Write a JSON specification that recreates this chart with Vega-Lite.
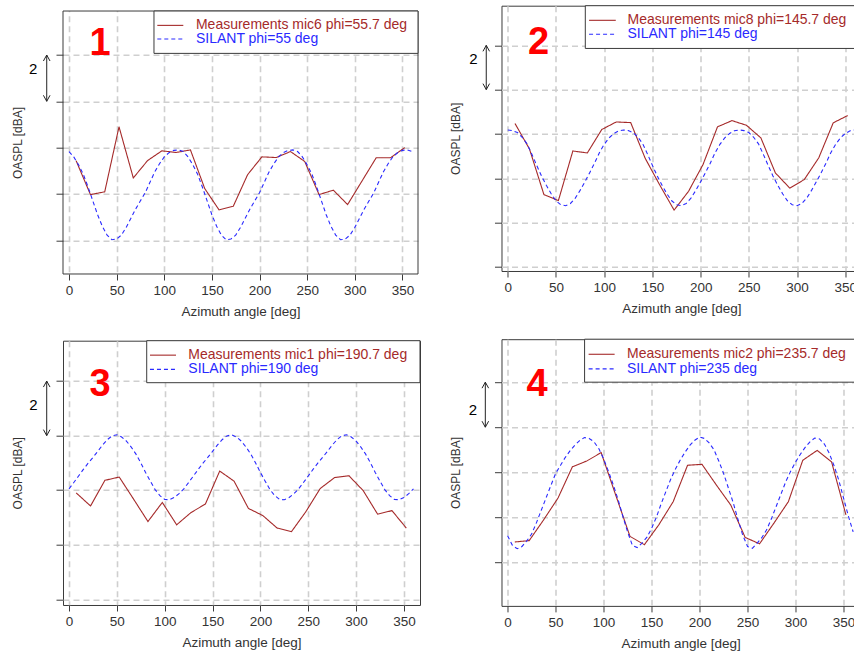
{
"$schema": "https://vega.github.io/schema/vega-lite/v6.json",
"background": "white",
"padding": {"left": 11, "top": 4.7, "right": 0, "bottom": 0},
"config": {
 "view": {"stroke": "#3a3a3a", "strokeWidth": 1},
 "axis": {"grid": true, "gridColor": "#cfcfcf", "gridDash": [6,4], "gridWidth": 1.6, "domain": false, "tickColor": "#3a3a3a", "labelFont": "Liberation Sans", "titleFont": "Liberation Sans", "labelColor": "#333333", "titleColor": "#333333", "titleFontWeight": "normal", "labelFlush": false, "labelOverlap": false}
},
"datasets": {
"p1": [
{"angle":7.5,"dBA":3.43,"series":"Measurements"},{"angle":22.5,"dBA":1.97,"series":"Measurements"},{"angle":37.5,"dBA":2.09,"series":"Measurements"},{"angle":52.5,"dBA":4.9,"series":"Measurements"},{"angle":67.5,"dBA":2.69,"series":"Measurements"},{"angle":82.5,"dBA":3.44,"series":"Measurements"},{"angle":97.5,"dBA":3.86,"series":"Measurements"},{"angle":112.5,"dBA":3.79,"series":"Measurements"},{"angle":127.5,"dBA":3.9,"series":"Measurements"},{"angle":142.5,"dBA":2.23,"series":"Measurements"},{"angle":157.5,"dBA":1.31,"series":"Measurements"},{"angle":172.5,"dBA":1.47,"series":"Measurements"},{"angle":187.5,"dBA":2.83,"series":"Measurements"},{"angle":202.5,"dBA":3.6,"series":"Measurements"},{"angle":217.5,"dBA":3.57,"series":"Measurements"},{"angle":232.5,"dBA":3.83,"series":"Measurements"},{"angle":247.5,"dBA":3.4,"series":"Measurements"},{"angle":262.5,"dBA":1.97,"series":"Measurements"},{"angle":277.5,"dBA":2.16,"series":"Measurements"},{"angle":292.5,"dBA":1.54,"series":"Measurements"},{"angle":307.5,"dBA":2.55,"series":"Measurements"},{"angle":322.5,"dBA":3.56,"series":"Measurements"},{"angle":337.5,"dBA":3.56,"series":"Measurements"},{"angle":352.5,"dBA":4.0,"series":"Measurements"},
{"angle":0,"dBA":3.83,"series":"SILANT"},{"angle":5,"dBA":3.6,"series":"SILANT"},{"angle":10,"dBA":3.26,"series":"SILANT"},{"angle":15,"dBA":2.85,"series":"SILANT"},{"angle":20,"dBA":2.3,"series":"SILANT"},{"angle":25,"dBA":1.7,"series":"SILANT"},{"angle":30,"dBA":1.1,"series":"SILANT"},{"angle":35,"dBA":0.6,"series":"SILANT"},{"angle":40,"dBA":0.22,"series":"SILANT"},{"angle":45,"dBA":0.02,"series":"SILANT"},{"angle":50,"dBA":0.05,"series":"SILANT"},{"angle":55,"dBA":0.22,"series":"SILANT"},{"angle":60,"dBA":0.55,"series":"SILANT"},{"angle":65,"dBA":0.95,"series":"SILANT"},{"angle":70,"dBA":1.35,"series":"SILANT"},{"angle":75,"dBA":1.7,"series":"SILANT"},{"angle":80,"dBA":2.05,"series":"SILANT"},{"angle":85,"dBA":2.5,"series":"SILANT"},{"angle":90,"dBA":2.95,"series":"SILANT"},{"angle":95,"dBA":3.3,"series":"SILANT"},{"angle":100,"dBA":3.6,"series":"SILANT"},{"angle":105,"dBA":3.78,"series":"SILANT"},{"angle":110,"dBA":3.88,"series":"SILANT"},{"angle":115,"dBA":3.9,"series":"SILANT"},
{"angle":120,"dBA":3.83,"series":"SILANT"},{"angle":125,"dBA":3.6,"series":"SILANT"},{"angle":130,"dBA":3.26,"series":"SILANT"},{"angle":135,"dBA":2.85,"series":"SILANT"},{"angle":140,"dBA":2.3,"series":"SILANT"},{"angle":145,"dBA":1.7,"series":"SILANT"},{"angle":150,"dBA":1.1,"series":"SILANT"},{"angle":155,"dBA":0.6,"series":"SILANT"},{"angle":160,"dBA":0.22,"series":"SILANT"},{"angle":165,"dBA":0.02,"series":"SILANT"},{"angle":170,"dBA":0.05,"series":"SILANT"},{"angle":175,"dBA":0.22,"series":"SILANT"},{"angle":180,"dBA":0.55,"series":"SILANT"},{"angle":185,"dBA":0.95,"series":"SILANT"},{"angle":190,"dBA":1.35,"series":"SILANT"},{"angle":195,"dBA":1.7,"series":"SILANT"},{"angle":200,"dBA":2.05,"series":"SILANT"},{"angle":205,"dBA":2.5,"series":"SILANT"},{"angle":210,"dBA":2.95,"series":"SILANT"},{"angle":215,"dBA":3.3,"series":"SILANT"},{"angle":220,"dBA":3.6,"series":"SILANT"},{"angle":225,"dBA":3.78,"series":"SILANT"},{"angle":230,"dBA":3.88,"series":"SILANT"},{"angle":235,"dBA":3.9,"series":"SILANT"},
{"angle":240,"dBA":3.83,"series":"SILANT"},{"angle":245,"dBA":3.6,"series":"SILANT"},{"angle":250,"dBA":3.26,"series":"SILANT"},{"angle":255,"dBA":2.85,"series":"SILANT"},{"angle":260,"dBA":2.3,"series":"SILANT"},{"angle":265,"dBA":1.7,"series":"SILANT"},{"angle":270,"dBA":1.1,"series":"SILANT"},{"angle":275,"dBA":0.6,"series":"SILANT"},{"angle":280,"dBA":0.22,"series":"SILANT"},{"angle":285,"dBA":0.02,"series":"SILANT"},{"angle":290,"dBA":0.05,"series":"SILANT"},{"angle":295,"dBA":0.22,"series":"SILANT"},{"angle":300,"dBA":0.55,"series":"SILANT"},{"angle":305,"dBA":0.95,"series":"SILANT"},{"angle":310,"dBA":1.35,"series":"SILANT"},{"angle":315,"dBA":1.7,"series":"SILANT"},{"angle":320,"dBA":2.05,"series":"SILANT"},{"angle":325,"dBA":2.5,"series":"SILANT"},{"angle":330,"dBA":2.95,"series":"SILANT"},{"angle":335,"dBA":3.3,"series":"SILANT"},{"angle":340,"dBA":3.6,"series":"SILANT"},{"angle":345,"dBA":3.78,"series":"SILANT"},{"angle":350,"dBA":3.88,"series":"SILANT"},{"angle":355,"dBA":3.9,"series":"SILANT"},{"angle":360,"dBA":3.83,"series":"SILANT"}
],
"p2": [
{"angle":7.5,"dBA":6.47,"series":"Measurements"},{"angle":22.5,"dBA":5.32,"series":"Measurements"},{"angle":37.5,"dBA":3.26,"series":"Measurements"},{"angle":52.5,"dBA":2.99,"series":"Measurements"},{"angle":67.5,"dBA":5.23,"series":"Measurements"},{"angle":82.5,"dBA":5.14,"series":"Measurements"},{"angle":97.5,"dBA":6.2,"series":"Measurements"},{"angle":112.5,"dBA":6.54,"series":"Measurements"},{"angle":127.5,"dBA":6.51,"series":"Measurements"},{"angle":142.5,"dBA":4.9,"series":"Measurements"},{"angle":157.5,"dBA":3.7,"series":"Measurements"},{"angle":172.5,"dBA":2.56,"series":"Measurements"},{"angle":187.5,"dBA":3.41,"series":"Measurements"},{"angle":202.5,"dBA":4.62,"series":"Measurements"},{"angle":217.5,"dBA":6.32,"series":"Measurements"},{"angle":232.5,"dBA":6.6,"series":"Measurements"},{"angle":247.5,"dBA":6.39,"series":"Measurements"},{"angle":262.5,"dBA":5.82,"series":"Measurements"},{"angle":277.5,"dBA":4.24,"series":"Measurements"},{"angle":292.5,"dBA":3.55,"series":"Measurements"},{"angle":307.5,"dBA":3.94,"series":"Measurements"},{"angle":322.5,"dBA":4.92,"series":"Measurements"},{"angle":337.5,"dBA":6.5,"series":"Measurements"},{"angle":352.5,"dBA":6.83,"series":"Measurements"},
{"angle":0,"dBA":6.18,"series":"SILANT"},{"angle":5,"dBA":6.15,"series":"SILANT"},{"angle":10,"dBA":6.06,"series":"SILANT"},{"angle":15,"dBA":5.85,"series":"SILANT"},{"angle":20,"dBA":5.55,"series":"SILANT"},{"angle":25,"dBA":5.08,"series":"SILANT"},{"angle":30,"dBA":4.58,"series":"SILANT"},{"angle":35,"dBA":4.1,"series":"SILANT"},{"angle":40,"dBA":3.68,"series":"SILANT"},{"angle":45,"dBA":3.3,"series":"SILANT"},{"angle":50,"dBA":2.98,"series":"SILANT"},{"angle":55,"dBA":2.8,"series":"SILANT"},{"angle":60,"dBA":2.76,"series":"SILANT"},{"angle":65,"dBA":2.86,"series":"SILANT"},{"angle":70,"dBA":3.1,"series":"SILANT"},{"angle":75,"dBA":3.45,"series":"SILANT"},{"angle":80,"dBA":3.84,"series":"SILANT"},{"angle":85,"dBA":4.25,"series":"SILANT"},{"angle":90,"dBA":4.68,"series":"SILANT"},{"angle":95,"dBA":5.15,"series":"SILANT"},{"angle":100,"dBA":5.53,"series":"SILANT"},{"angle":105,"dBA":5.82,"series":"SILANT"},{"angle":110,"dBA":6.02,"series":"SILANT"},{"angle":115,"dBA":6.14,"series":"SILANT"},
{"angle":120,"dBA":6.18,"series":"SILANT"},{"angle":125,"dBA":6.15,"series":"SILANT"},{"angle":130,"dBA":6.06,"series":"SILANT"},{"angle":135,"dBA":5.85,"series":"SILANT"},{"angle":140,"dBA":5.55,"series":"SILANT"},{"angle":145,"dBA":5.08,"series":"SILANT"},{"angle":150,"dBA":4.58,"series":"SILANT"},{"angle":155,"dBA":4.1,"series":"SILANT"},{"angle":160,"dBA":3.68,"series":"SILANT"},{"angle":165,"dBA":3.3,"series":"SILANT"},{"angle":170,"dBA":2.98,"series":"SILANT"},{"angle":175,"dBA":2.8,"series":"SILANT"},{"angle":180,"dBA":2.76,"series":"SILANT"},{"angle":185,"dBA":2.86,"series":"SILANT"},{"angle":190,"dBA":3.1,"series":"SILANT"},{"angle":195,"dBA":3.45,"series":"SILANT"},{"angle":200,"dBA":3.84,"series":"SILANT"},{"angle":205,"dBA":4.25,"series":"SILANT"},{"angle":210,"dBA":4.68,"series":"SILANT"},{"angle":215,"dBA":5.15,"series":"SILANT"},{"angle":220,"dBA":5.53,"series":"SILANT"},{"angle":225,"dBA":5.82,"series":"SILANT"},{"angle":230,"dBA":6.02,"series":"SILANT"},{"angle":235,"dBA":6.14,"series":"SILANT"},
{"angle":240,"dBA":6.18,"series":"SILANT"},{"angle":245,"dBA":6.15,"series":"SILANT"},{"angle":250,"dBA":6.06,"series":"SILANT"},{"angle":255,"dBA":5.85,"series":"SILANT"},{"angle":260,"dBA":5.55,"series":"SILANT"},{"angle":265,"dBA":5.08,"series":"SILANT"},{"angle":270,"dBA":4.58,"series":"SILANT"},{"angle":275,"dBA":4.1,"series":"SILANT"},{"angle":280,"dBA":3.68,"series":"SILANT"},{"angle":285,"dBA":3.3,"series":"SILANT"},{"angle":290,"dBA":2.98,"series":"SILANT"},{"angle":295,"dBA":2.8,"series":"SILANT"},{"angle":300,"dBA":2.76,"series":"SILANT"},{"angle":305,"dBA":2.86,"series":"SILANT"},{"angle":310,"dBA":3.1,"series":"SILANT"},{"angle":315,"dBA":3.45,"series":"SILANT"},{"angle":320,"dBA":3.84,"series":"SILANT"},{"angle":325,"dBA":4.25,"series":"SILANT"},{"angle":330,"dBA":4.68,"series":"SILANT"},{"angle":335,"dBA":5.15,"series":"SILANT"},{"angle":340,"dBA":5.53,"series":"SILANT"},{"angle":345,"dBA":5.82,"series":"SILANT"},{"angle":350,"dBA":6.02,"series":"SILANT"},{"angle":355,"dBA":6.14,"series":"SILANT"},{"angle":360,"dBA":6.18,"series":"SILANT"}
],
"p3": [
{"angle":7.5,"dBA":3.9,"series":"Measurements"},{"angle":22.5,"dBA":3.42,"series":"Measurements"},{"angle":37.5,"dBA":4.36,"series":"Measurements"},{"angle":52.5,"dBA":4.48,"series":"Measurements"},{"angle":67.5,"dBA":3.67,"series":"Measurements"},{"angle":82.5,"dBA":2.85,"series":"Measurements"},{"angle":97.5,"dBA":3.55,"series":"Measurements"},{"angle":112.5,"dBA":2.73,"series":"Measurements"},{"angle":127.5,"dBA":3.18,"series":"Measurements"},{"angle":142.5,"dBA":3.49,"series":"Measurements"},{"angle":157.5,"dBA":4.7,"series":"Measurements"},{"angle":172.5,"dBA":4.33,"series":"Measurements"},{"angle":187.5,"dBA":3.33,"series":"Measurements"},{"angle":202.5,"dBA":3.07,"series":"Measurements"},{"angle":217.5,"dBA":2.61,"series":"Measurements"},{"angle":232.5,"dBA":2.48,"series":"Measurements"},{"angle":247.5,"dBA":3.21,"series":"Measurements"},{"angle":262.5,"dBA":4.06,"series":"Measurements"},{"angle":277.5,"dBA":4.46,"series":"Measurements"},{"angle":292.5,"dBA":4.53,"series":"Measurements"},{"angle":307.5,"dBA":3.98,"series":"Measurements"},{"angle":322.5,"dBA":3.12,"series":"Measurements"},{"angle":337.5,"dBA":3.25,"series":"Measurements"},{"angle":352.5,"dBA":2.61,"series":"Measurements"},
{"angle":0,"dBA":4.05,"series":"SILANT"},{"angle":5,"dBA":4.28,"series":"SILANT"},{"angle":10,"dBA":4.52,"series":"SILANT"},{"angle":15,"dBA":4.76,"series":"SILANT"},{"angle":20,"dBA":4.99,"series":"SILANT"},{"angle":25,"dBA":5.2,"series":"SILANT"},{"angle":30,"dBA":5.42,"series":"SILANT"},{"angle":35,"dBA":5.65,"series":"SILANT"},{"angle":40,"dBA":5.85,"series":"SILANT"},{"angle":45,"dBA":5.99,"series":"SILANT"},{"angle":50,"dBA":6.03,"series":"SILANT"},{"angle":55,"dBA":5.95,"series":"SILANT"},{"angle":60,"dBA":5.8,"series":"SILANT"},{"angle":65,"dBA":5.58,"series":"SILANT"},{"angle":70,"dBA":5.32,"series":"SILANT"},{"angle":75,"dBA":5.0,"series":"SILANT"},{"angle":80,"dBA":4.65,"series":"SILANT"},{"angle":85,"dBA":4.33,"series":"SILANT"},{"angle":90,"dBA":4.02,"series":"SILANT"},{"angle":95,"dBA":3.8,"series":"SILANT"},{"angle":100,"dBA":3.66,"series":"SILANT"},{"angle":105,"dBA":3.65,"series":"SILANT"},{"angle":110,"dBA":3.73,"series":"SILANT"},{"angle":115,"dBA":3.87,"series":"SILANT"},
{"angle":120,"dBA":4.05,"series":"SILANT"},{"angle":125,"dBA":4.28,"series":"SILANT"},{"angle":130,"dBA":4.52,"series":"SILANT"},{"angle":135,"dBA":4.76,"series":"SILANT"},{"angle":140,"dBA":4.99,"series":"SILANT"},{"angle":145,"dBA":5.2,"series":"SILANT"},{"angle":150,"dBA":5.42,"series":"SILANT"},{"angle":155,"dBA":5.65,"series":"SILANT"},{"angle":160,"dBA":5.85,"series":"SILANT"},{"angle":165,"dBA":5.99,"series":"SILANT"},{"angle":170,"dBA":6.03,"series":"SILANT"},{"angle":175,"dBA":5.95,"series":"SILANT"},{"angle":180,"dBA":5.8,"series":"SILANT"},{"angle":185,"dBA":5.58,"series":"SILANT"},{"angle":190,"dBA":5.32,"series":"SILANT"},{"angle":195,"dBA":5.0,"series":"SILANT"},{"angle":200,"dBA":4.65,"series":"SILANT"},{"angle":205,"dBA":4.33,"series":"SILANT"},{"angle":210,"dBA":4.02,"series":"SILANT"},{"angle":215,"dBA":3.8,"series":"SILANT"},{"angle":220,"dBA":3.66,"series":"SILANT"},{"angle":225,"dBA":3.65,"series":"SILANT"},{"angle":230,"dBA":3.73,"series":"SILANT"},{"angle":235,"dBA":3.87,"series":"SILANT"},
{"angle":240,"dBA":4.05,"series":"SILANT"},{"angle":245,"dBA":4.28,"series":"SILANT"},{"angle":250,"dBA":4.52,"series":"SILANT"},{"angle":255,"dBA":4.76,"series":"SILANT"},{"angle":260,"dBA":4.99,"series":"SILANT"},{"angle":265,"dBA":5.2,"series":"SILANT"},{"angle":270,"dBA":5.42,"series":"SILANT"},{"angle":275,"dBA":5.65,"series":"SILANT"},{"angle":280,"dBA":5.85,"series":"SILANT"},{"angle":285,"dBA":5.99,"series":"SILANT"},{"angle":290,"dBA":6.03,"series":"SILANT"},{"angle":295,"dBA":5.95,"series":"SILANT"},{"angle":300,"dBA":5.8,"series":"SILANT"},{"angle":305,"dBA":5.58,"series":"SILANT"},{"angle":310,"dBA":5.32,"series":"SILANT"},{"angle":315,"dBA":5.0,"series":"SILANT"},{"angle":320,"dBA":4.65,"series":"SILANT"},{"angle":325,"dBA":4.33,"series":"SILANT"},{"angle":330,"dBA":4.02,"series":"SILANT"},{"angle":335,"dBA":3.8,"series":"SILANT"},{"angle":340,"dBA":3.66,"series":"SILANT"},{"angle":345,"dBA":3.65,"series":"SILANT"},{"angle":350,"dBA":3.73,"series":"SILANT"},{"angle":355,"dBA":3.87,"series":"SILANT"},{"angle":360,"dBA":4.05,"series":"SILANT"}
],
"p4": [
{"angle":7.5,"dBA":0.9,"series":"Measurements"},{"angle":22.5,"dBA":0.96,"series":"Measurements"},{"angle":37.5,"dBA":1.88,"series":"Measurements"},{"angle":52.5,"dBA":2.85,"series":"Measurements"},{"angle":67.5,"dBA":4.24,"series":"Measurements"},{"angle":82.5,"dBA":4.5,"series":"Measurements"},{"angle":97.5,"dBA":4.87,"series":"Measurements"},{"angle":112.5,"dBA":3.0,"series":"Measurements"},{"angle":127.5,"dBA":1.15,"series":"Measurements"},{"angle":142.5,"dBA":0.78,"series":"Measurements"},{"angle":157.5,"dBA":1.66,"series":"Measurements"},{"angle":172.5,"dBA":2.69,"series":"Measurements"},{"angle":187.5,"dBA":4.31,"series":"Measurements"},{"angle":202.5,"dBA":4.35,"series":"Measurements"},{"angle":217.5,"dBA":3.43,"series":"Measurements"},{"angle":232.5,"dBA":2.54,"series":"Measurements"},{"angle":247.5,"dBA":1.1,"series":"Measurements"},{"angle":262.5,"dBA":0.82,"series":"Measurements"},{"angle":277.5,"dBA":1.74,"series":"Measurements"},{"angle":292.5,"dBA":2.69,"series":"Measurements"},{"angle":307.5,"dBA":4.53,"series":"Measurements"},{"angle":322.5,"dBA":4.97,"series":"Measurements"},{"angle":337.5,"dBA":4.46,"series":"Measurements"},{"angle":352.5,"dBA":2.1,"series":"Measurements"},
{"angle":0,"dBA":1.18,"series":"SILANT"},{"angle":5,"dBA":0.75,"series":"SILANT"},{"angle":10,"dBA":0.6,"series":"SILANT"},{"angle":15,"dBA":0.7,"series":"SILANT"},{"angle":20,"dBA":0.95,"series":"SILANT"},{"angle":25,"dBA":1.25,"series":"SILANT"},{"angle":30,"dBA":1.75,"series":"SILANT"},{"angle":35,"dBA":2.3,"series":"SILANT"},{"angle":40,"dBA":2.85,"series":"SILANT"},{"angle":45,"dBA":3.4,"series":"SILANT"},{"angle":50,"dBA":3.94,"series":"SILANT"},{"angle":55,"dBA":4.3,"series":"SILANT"},{"angle":60,"dBA":4.65,"series":"SILANT"},{"angle":65,"dBA":4.95,"series":"SILANT"},{"angle":70,"dBA":5.2,"series":"SILANT"},{"angle":75,"dBA":5.4,"series":"SILANT"},{"angle":80,"dBA":5.54,"series":"SILANT"},{"angle":85,"dBA":5.5,"series":"SILANT"},{"angle":90,"dBA":5.35,"series":"SILANT"},{"angle":95,"dBA":5.05,"series":"SILANT"},{"angle":100,"dBA":4.6,"series":"SILANT"},{"angle":105,"dBA":4.05,"series":"SILANT"},{"angle":110,"dBA":3.45,"series":"SILANT"},{"angle":115,"dBA":2.8,"series":"SILANT"},{"angle":120,"dBA":2.05,"series":"SILANT"},{"angle":125,"dBA":1.35,"series":"SILANT"},{"angle":130,"dBA":0.75,"series":"SILANT"},{"angle":135,"dBA":0.65,"series":"SILANT"},{"angle":140,"dBA":0.85,"series":"SILANT"},{"angle":145,"dBA":1.1,"series":"SILANT"},{"angle":150,"dBA":1.5,"series":"SILANT"},{"angle":155,"dBA":2.0,"series":"SILANT"},{"angle":160,"dBA":2.6,"series":"SILANT"},{"angle":165,"dBA":3.15,"series":"SILANT"},{"angle":170,"dBA":3.7,"series":"SILANT"},{"angle":175,"dBA":4.15,"series":"SILANT"},{"angle":180,"dBA":4.55,"series":"SILANT"},{"angle":185,"dBA":4.9,"series":"SILANT"},{"angle":190,"dBA":5.2,"series":"SILANT"},{"angle":195,"dBA":5.42,"series":"SILANT"},{"angle":200,"dBA":5.56,"series":"SILANT"},{"angle":205,"dBA":5.5,"series":"SILANT"},{"angle":210,"dBA":5.3,"series":"SILANT"},{"angle":215,"dBA":5.0,"series":"SILANT"},{"angle":220,"dBA":4.5,"series":"SILANT"},{"angle":225,"dBA":3.95,"series":"SILANT"},{"angle":230,"dBA":3.3,"series":"SILANT"},{"angle":235,"dBA":2.65,"series":"SILANT"},{"angle":240,"dBA":1.9,"series":"SILANT"},{"angle":245,"dBA":1.2,"series":"SILANT"},{"angle":250,"dBA":0.7,"series":"SILANT"},{"angle":255,"dBA":0.62,"series":"SILANT"},{"angle":260,"dBA":0.85,"series":"SILANT"},{"angle":265,"dBA":1.1,"series":"SILANT"},{"angle":270,"dBA":1.45,"series":"SILANT"},{"angle":275,"dBA":1.95,"series":"SILANT"},{"angle":280,"dBA":2.5,"series":"SILANT"},{"angle":285,"dBA":3.05,"series":"SILANT"},{"angle":290,"dBA":3.6,"series":"SILANT"},{"angle":295,"dBA":4.05,"series":"SILANT"},{"angle":300,"dBA":4.45,"series":"SILANT"},{"angle":305,"dBA":4.8,"series":"SILANT"},{"angle":310,"dBA":5.1,"series":"SILANT"},{"angle":315,"dBA":5.35,"series":"SILANT"},{"angle":320,"dBA":5.52,"series":"SILANT"},{"angle":325,"dBA":5.48,"series":"SILANT"},{"angle":330,"dBA":5.25,"series":"SILANT"},{"angle":335,"dBA":4.85,"series":"SILANT"},{"angle":340,"dBA":4.3,"series":"SILANT"},{"angle":345,"dBA":3.65,"series":"SILANT"},{"angle":350,"dBA":2.85,"series":"SILANT"},{"angle":355,"dBA":2.05,"series":"SILANT"},{"angle":360,"dBA":1.35,"series":"SILANT"}
]
},
"spacing": 28.5,
"hconcat": [
{"spacing": 21, "vconcat": [
{"width": 355, "height": 268.3,
 "view": {"stroke": null},
 "layer": [
  {"data": {"name": "p1"}, "mark": {"type": "line", "clip": true, "strokeWidth": 1.1},
   "encoding": {
    "x": {"field": "angle", "type": "quantitative", "scale": {"domain": [-6.3, 366.4], "nice": false, "zero": false}, "axis": {"values": [0,50,100,150,200,250,300,350], "title": "Azimuth angle [deg]", "labelFontSize": 13.5, "titleFontSize": 13.5, "tickSize": 6, "labelPadding": 4, "titlePadding": 7}},
    "y": {"field": "dBA", "type": "quantitative", "scale": {"domain": [-1.46, 10.13], "nice": false, "zero": false}, "axis": {"values": [0,2,4,6,8], "labels": false, "title": "OASPL [dBA]", "titleFontSize": 12, "tickSize": 7, "titlePadding": 31, "titleY": 136.8}},
    "color": {"field": "series", "type": "nominal", "scale": {"domain": ["Measurements","SILANT"], "range": ["#a52a2a","#2a2aff"]}, "legend": null},
    "strokeDash": {"field": "series", "type": "nominal", "scale": {"domain": ["Measurements","SILANT"], "range": [[1,0],[4,3]]}, "legend": null}
   }},
  {"data": {"values": [{}]}, "mark": {"type": "rect", "fill": "white", "strokeWidth": 0}, "encoding": {"x": {"datum": -6.3}, "x2": {"datum": 366.4}, "y": {"datum": 9.9}, "y2": {"datum": 10.13}}},
  {"data": {"values": [{}]}, "mark": {"type": "rect", "filled": false, "color": "#3a3a3a", "strokeWidth": 1}, "encoding": {"x": {"datum": -6.3}, "x2": {"datum": 366.4}, "y": {"datum": 9.9}, "y2": {"datum": -1.46}}},
  {"data": {"values": [{}]}, "mark": {"type": "rect", "fill": "white", "stroke": "#3a3a3a", "strokeWidth": 1}, "encoding": {"x": {"datum": 89.2}, "x2": {"datum": 366.4}, "y": {"datum": 9.9}, "y2": {"datum": 8.07}}},
  {"data": {"values": [{}]}, "mark": {"type": "rule", "color": "#a52a2a", "strokeWidth": 1.1}, "encoding": {"x": {"datum": 92.7}, "x2": {"datum": 120}, "y": {"datum": 9.28}}},
  {"data": {"values": [{}]}, "mark": {"type": "rule", "color": "#2a2aff", "strokeWidth": 1.1, "strokeDash": [4,3]}, "encoding": {"x": {"datum": 92.7}, "x2": {"datum": 120}, "y": {"datum": 8.69}}},
  {"data": {"values": [{}]}, "mark": {"type": "text", "text": "Measurements mic6 phi=55.7 deg", "align": "left", "baseline": "middle", "font": "Liberation Sans", "fontSize": 14, "color": "#a52a2a"}, "encoding": {"x": {"datum": 133.3}, "y": {"datum": 9.28}}},
  {"data": {"values": [{}]}, "mark": {"type": "text", "text": "SILANT phi=55 deg", "align": "left", "baseline": "middle", "font": "Liberation Sans", "fontSize": 14, "color": "#2a2aff"}, "encoding": {"x": {"datum": 133.3}, "y": {"datum": 8.69}}},
  {"data": {"values": [{}]}, "mark": {"type": "text", "text": "1", "align": "center", "baseline": "middle", "font": "Liberation Sans", "fontSize": 38, "fontWeight": "bold", "color": "#ff0000"}, "encoding": {"x": {"datum": 32.5}, "y": {"datum": 8.46}}},
  {"data": {"values": [{}]}, "mark": {"type": "text", "text": "2", "align": "center", "baseline": "middle", "font": "Liberation Sans", "fontSize": 15, "color": "#000000"}, "encoding": {"x": {"datum": -37.5}, "y": {"datum": 7.38}}},
  {"data": {"values": [{}]}, "mark": {"type": "rule", "color": "#222222", "strokeWidth": 1}, "encoding": {"x": {"datum": -23.4}, "y": {"datum": 8}, "y2": {"datum": 6}}},
  {"data": {"values": [{}]}, "mark": {"type": "point", "shape": "M-0.55,1L0,0L0.55,1", "size": 144, "filled": false, "color": "#222222", "strokeWidth": 1, "opacity": 1}, "encoding": {"x": {"datum": -23.4}, "y": {"datum": 8}}},
  {"data": {"values": [{}]}, "mark": {"type": "point", "shape": "M-0.55,-1L0,0L0.55,-1", "size": 144, "filled": false, "color": "#222222", "strokeWidth": 1, "opacity": 1}, "encoding": {"x": {"datum": -23.4}, "y": {"datum": 6}}}
 ]},
{"width": 357, "height": 264.3,
 "layer": [
  {"data": {"name": "p3"}, "mark": {"type": "line", "clip": true, "strokeWidth": 1.1},
   "encoding": {
    "x": {"field": "angle", "type": "quantitative", "scale": {"domain": [-6.27, 366.8], "nice": false, "zero": false}, "axis": {"values": [0,50,100,150,200,250,300,350], "title": "Azimuth angle [deg]", "labelFontSize": 13.5, "titleFontSize": 13.5, "tickSize": 6, "labelPadding": 4, "titlePadding": 7}},
    "y": {"field": "dBA", "type": "quantitative", "scale": {"domain": [-0.21, 9.48], "nice": false, "zero": false}, "axis": {"values": [0,2,4,6,8], "labels": false, "title": "OASPL [dBA]", "titleFontSize": 12, "tickSize": 7, "titlePadding": 31}},
    "color": {"field": "series", "type": "nominal", "scale": {"domain": ["Measurements","SILANT"], "range": ["#a52a2a","#2a2aff"]}, "legend": null},
    "strokeDash": {"field": "series", "type": "nominal", "scale": {"domain": ["Measurements","SILANT"], "range": [[1,0],[4,3]]}, "legend": null}
   }},
  {"data": {"values": [{}]}, "mark": {"type": "rect", "fill": "white", "stroke": "#3a3a3a", "strokeWidth": 1}, "encoding": {"x": {"datum": 81.2}, "x2": {"datum": 366.8}, "y": {"datum": 9.48}, "y2": {"datum": 7.94}}},
  {"data": {"values": [{}]}, "mark": {"type": "rule", "color": "#a52a2a", "strokeWidth": 1.1}, "encoding": {"x": {"datum": 84.6}, "x2": {"datum": 111.8}, "y": {"datum": 8.95}}},
  {"data": {"values": [{}]}, "mark": {"type": "rule", "color": "#2a2aff", "strokeWidth": 1.1, "strokeDash": [4,3]}, "encoding": {"x": {"datum": 84.6}, "x2": {"datum": 111.8}, "y": {"datum": 8.43}}},
  {"data": {"values": [{}]}, "mark": {"type": "text", "text": "Measurements mic1 phi=190.7 deg", "align": "left", "baseline": "middle", "font": "Liberation Sans", "fontSize": 14, "color": "#a52a2a"}, "encoding": {"x": {"datum": 124.7}, "y": {"datum": 8.95}}},
  {"data": {"values": [{}]}, "mark": {"type": "text", "text": "SILANT phi=190 deg", "align": "left", "baseline": "middle", "font": "Liberation Sans", "fontSize": 14, "color": "#2a2aff"}, "encoding": {"x": {"datum": 124.7}, "y": {"datum": 8.43}}},
  {"data": {"values": [{}]}, "mark": {"type": "text", "text": "3", "align": "center", "baseline": "middle", "font": "Liberation Sans", "fontSize": 38, "fontWeight": "bold", "color": "#ff0000"}, "encoding": {"x": {"datum": 32.4}, "y": {"datum": 7.85}}},
  {"data": {"values": [{}]}, "mark": {"type": "text", "text": "2", "align": "center", "baseline": "middle", "font": "Liberation Sans", "fontSize": 15, "color": "#000000"}, "encoding": {"x": {"datum": -37.3}, "y": {"datum": 7.12}}},
  {"data": {"values": [{}]}, "mark": {"type": "rule", "color": "#222222", "strokeWidth": 1}, "encoding": {"x": {"datum": -23.3}, "y": {"datum": 8}, "y2": {"datum": 6}}},
  {"data": {"values": [{}]}, "mark": {"type": "point", "shape": "M-0.55,1L0,0L0.55,1", "size": 144, "filled": false, "color": "#222222", "strokeWidth": 1, "opacity": 1}, "encoding": {"x": {"datum": -23.3}, "y": {"datum": 8}}},
  {"data": {"values": [{}]}, "mark": {"type": "point", "shape": "M-0.55,-1L0,0L0.55,-1", "size": 144, "filled": false, "color": "#222222", "strokeWidth": 1, "opacity": 1}, "encoding": {"x": {"datum": -23.3}, "y": {"datum": 6}}}
 ]}
]},
{"spacing": 22.5, "vconcat": [
{"width": 359.6, "height": 265.3,
 "layer": [
  {"data": {"name": "p2"}, "mark": {"type": "line", "clip": true, "strokeWidth": 1.1},
   "encoding": {
    "x": {"field": "angle", "type": "quantitative", "scale": {"domain": [-6.5, 366.4], "nice": false, "zero": false}, "axis": {"values": [0,50,100,150,200,250,300,350], "title": "Azimuth angle [deg]", "labelFontSize": 13.5, "titleFontSize": 13.5, "tickSize": 6, "labelPadding": 4, "titlePadding": 7}},
    "y": {"field": "dBA", "type": "quantitative", "scale": {"domain": [-0.19, 11.79], "nice": false, "zero": false}, "axis": {"values": [0,2,4,6,8,10], "labels": false, "title": "OASPL [dBA]", "titleFontSize": 12, "tickSize": 7, "titlePadding": 31}},
    "color": {"field": "series", "type": "nominal", "scale": {"domain": ["Measurements","SILANT"], "range": ["#a52a2a","#2a2aff"]}, "legend": null},
    "strokeDash": {"field": "series", "type": "nominal", "scale": {"domain": ["Measurements","SILANT"], "range": [[1,0],[4,3]]}, "legend": null}
   }},
  {"data": {"values": [{}]}, "mark": {"type": "rect", "fill": "white", "stroke": "#3a3a3a", "strokeWidth": 1}, "encoding": {"x": {"datum": 80.4}, "x2": {"datum": 366.4}, "y": {"datum": 11.79}, "y2": {"datum": 9.86}}},
  {"data": {"values": [{}]}, "mark": {"type": "rule", "color": "#a52a2a", "strokeWidth": 1.1}, "encoding": {"x": {"datum": 84.3}, "x2": {"datum": 112}, "y": {"datum": 11.13}}},
  {"data": {"values": [{}]}, "mark": {"type": "rule", "color": "#2a2aff", "strokeWidth": 1.1, "strokeDash": [4,3]}, "encoding": {"x": {"datum": 84.3}, "x2": {"datum": 112}, "y": {"datum": 10.5}}},
  {"data": {"values": [{}]}, "mark": {"type": "text", "text": "Measurements mic8 phi=145.7 deg", "align": "left", "baseline": "middle", "font": "Liberation Sans", "fontSize": 14, "color": "#a52a2a"}, "encoding": {"x": {"datum": 124.2}, "y": {"datum": 11.13}}},
  {"data": {"values": [{}]}, "mark": {"type": "text", "text": "SILANT phi=145 deg", "align": "left", "baseline": "middle", "font": "Liberation Sans", "fontSize": 14, "color": "#2a2aff"}, "encoding": {"x": {"datum": 124.2}, "y": {"datum": 10.5}}},
  {"data": {"values": [{}]}, "mark": {"type": "text", "text": "2", "align": "center", "baseline": "middle", "font": "Liberation Sans", "fontSize": 38, "fontWeight": "bold", "color": "#ff0000"}, "encoding": {"x": {"datum": 31.9}, "y": {"datum": 10.12}}},
  {"data": {"values": [{}]}, "mark": {"type": "text", "text": "2", "align": "center", "baseline": "middle", "font": "Liberation Sans", "fontSize": 15, "color": "#000000"}, "encoding": {"x": {"datum": -35.5}, "y": {"datum": 9.37}}},
  {"data": {"values": [{}]}, "mark": {"type": "rule", "color": "#222222", "strokeWidth": 1}, "encoding": {"x": {"datum": -22.3}, "y": {"datum": 10}, "y2": {"datum": 8}}},
  {"data": {"values": [{}]}, "mark": {"type": "point", "shape": "M-0.55,1L0,0L0.55,1", "size": 144, "filled": false, "color": "#222222", "strokeWidth": 1, "opacity": 1}, "encoding": {"x": {"datum": -22.3}, "y": {"datum": 10}}},
  {"data": {"values": [{}]}, "mark": {"type": "point", "shape": "M-0.55,-1L0,0L0.55,-1", "size": 144, "filled": false, "color": "#222222", "strokeWidth": 1, "opacity": 1}, "encoding": {"x": {"datum": -22.3}, "y": {"datum": 8}}}
 ]},
{"width": 358.2, "height": 266.7,
 "layer": [
  {"data": {"name": "p4"}, "mark": {"type": "line", "clip": true, "strokeWidth": 1.1},
   "encoding": {
    "x": {"field": "angle", "type": "quantitative", "scale": {"domain": [-6.35, 366.8], "nice": false, "zero": false}, "axis": {"values": [0,50,100,150,200,250,300,350], "title": "Azimuth angle [deg]", "labelFontSize": 13.5, "titleFontSize": 13.5, "tickSize": 6, "labelPadding": 4, "titlePadding": 7}},
    "y": {"field": "dBA", "type": "quantitative", "scale": {"domain": [-1.94, 9.91], "nice": false, "zero": false}, "axis": {"values": [0,2,4,6,8], "labels": false, "title": "OASPL [dBA]", "titleFontSize": 12, "tickSize": 7, "titlePadding": 31}},
    "color": {"field": "series", "type": "nominal", "scale": {"domain": ["Measurements","SILANT"], "range": ["#a52a2a","#2a2aff"]}, "legend": null},
    "strokeDash": {"field": "series", "type": "nominal", "scale": {"domain": ["Measurements","SILANT"], "range": [[1,0],[4,3]]}, "legend": null}
   }},
  {"data": {"values": [{}]}, "mark": {"type": "rect", "fill": "white", "stroke": "#3a3a3a", "strokeWidth": 1}, "encoding": {"x": {"datum": 80.2}, "x2": {"datum": 366.8}, "y": {"datum": 9.91}, "y2": {"datum": 8.0}}},
  {"data": {"values": [{}]}, "mark": {"type": "rule", "color": "#a52a2a", "strokeWidth": 1.1}, "encoding": {"x": {"datum": 84.4}, "x2": {"datum": 111.5}, "y": {"datum": 9.24}}},
  {"data": {"values": [{}]}, "mark": {"type": "rule", "color": "#2a2aff", "strokeWidth": 1.1, "strokeDash": [4,3]}, "encoding": {"x": {"datum": 84.4}, "x2": {"datum": 111.5}, "y": {"datum": 8.59}}},
  {"data": {"values": [{}]}, "mark": {"type": "text", "text": "Measurements mic2 phi=235.7 deg", "align": "left", "baseline": "middle", "font": "Liberation Sans", "fontSize": 14, "color": "#a52a2a"}, "encoding": {"x": {"datum": 124.4}, "y": {"datum": 9.24}}},
  {"data": {"values": [{}]}, "mark": {"type": "text", "text": "SILANT phi=235 deg", "align": "left", "baseline": "middle", "font": "Liberation Sans", "fontSize": 14, "color": "#2a2aff"}, "encoding": {"x": {"datum": 124.4}, "y": {"datum": 8.59}}},
  {"data": {"values": [{}]}, "mark": {"type": "text", "text": "4", "align": "center", "baseline": "middle", "font": "Liberation Sans", "fontSize": 38, "fontWeight": "bold", "color": "#ff0000"}, "encoding": {"x": {"datum": 30.6}, "y": {"datum": 7.88}}},
  {"data": {"values": [{}]}, "mark": {"type": "text", "text": "2", "align": "center", "baseline": "middle", "font": "Liberation Sans", "fontSize": 15, "color": "#000000"}, "encoding": {"x": {"datum": -36}, "y": {"datum": 6.77}}},
  {"data": {"values": [{}]}, "mark": {"type": "rule", "color": "#222222", "strokeWidth": 1}, "encoding": {"x": {"datum": -23.2}, "y": {"datum": 8}, "y2": {"datum": 6}}},
  {"data": {"values": [{}]}, "mark": {"type": "point", "shape": "M-0.55,1L0,0L0.55,1", "size": 144, "filled": false, "color": "#222222", "strokeWidth": 1, "opacity": 1}, "encoding": {"x": {"datum": -23.2}, "y": {"datum": 8}}},
  {"data": {"values": [{}]}, "mark": {"type": "point", "shape": "M-0.55,-1L0,0L0.55,-1", "size": 144, "filled": false, "color": "#222222", "strokeWidth": 1, "opacity": 1}, "encoding": {"x": {"datum": -23.2}, "y": {"datum": 6}}}
 ]}
]}
]
}
